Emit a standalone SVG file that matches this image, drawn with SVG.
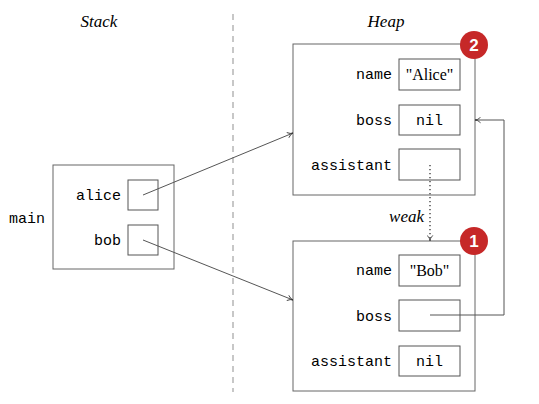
<svg xmlns="http://www.w3.org/2000/svg" width="539" height="404" viewBox="0 0 539 404">
<style>
.box{fill:none;stroke:#666;stroke-width:1}
.fld{fill:#fff;stroke:#555;stroke-width:1}
.mono{font-family:"Liberation Mono","DejaVu Sans Mono",monospace;font-size:15px;fill:#000}
.ser{font-family:"Liberation Serif",serif;font-size:16px;fill:#000}
.ital{font-family:"Liberation Serif",serif;font-style:italic;font-size:17px;fill:#000}
.con{fill:none;stroke:#555;stroke-width:1}
.badge{fill:#c62828}
.bt{font-family:"Liberation Sans",sans-serif;font-weight:bold;font-size:17px;fill:#fff}
</style>
<defs>
<marker id="arr" viewBox="0 0 10 10" refX="9" refY="5" markerWidth="7" markerHeight="7" markerUnits="userSpaceOnUse" orient="auto">
<path d="M1,1 Q5,5 9,5 Q5,5 1,9" fill="none" stroke="#333" stroke-width="1.2"/>
</marker>
</defs>
<text class="ital" x="99" y="27" text-anchor="middle">Stack</text>
<text class="ital" x="386" y="27" text-anchor="middle">Heap</text>
<line x1="233" y1="14" x2="233" y2="392" stroke="#aaa" stroke-width="1.3" stroke-dasharray="6,5"/>
<g id="main">
<rect class="box" x="53" y="165" width="121" height="104"/>
<text class="mono" x="9" y="223">main</text>
<text class="mono" x="121" y="200" text-anchor="end">alice</text>
<rect class="fld" x="128" y="180" width="30" height="30"/>
<text class="mono" x="121" y="245" text-anchor="end">bob</text>
<rect class="fld" x="128" y="225" width="30" height="30"/>
</g>
<g id="alice">
<rect class="box" x="293" y="44" width="182" height="151"/>
<text class="mono" x="392" y="79" text-anchor="end">name</text>
<rect class="fld" x="399" y="59" width="61" height="31"/>
<text class="ser" x="429.5" y="80" text-anchor="middle">"Alice"</text>
<text class="mono" x="392" y="125" text-anchor="end">boss</text>
<rect class="fld" x="399" y="105" width="61" height="30"/>
<text class="mono" x="429.5" y="125" text-anchor="middle">nil</text>
<text class="mono" x="392" y="170" text-anchor="end">assistant</text>
<rect class="fld" x="399" y="149" width="61" height="31"/>
<circle class="badge" cx="474" cy="45" r="14"/>
<text class="bt" x="474" y="51" text-anchor="middle">2</text>
</g>
<g id="bob">
<rect class="box" x="293" y="241" width="182" height="150"/>
<text class="mono" x="392" y="275" text-anchor="end">name</text>
<rect class="fld" x="399" y="255" width="61" height="31"/>
<text class="ser" x="429.5" y="276" text-anchor="middle">"Bob"</text>
<text class="mono" x="392" y="321" text-anchor="end">boss</text>
<rect class="fld" x="399" y="300" width="61" height="31"/>
<text class="mono" x="392" y="366" text-anchor="end">assistant</text>
<rect class="fld" x="399" y="346" width="61" height="30"/>
<text class="mono" x="429.5" y="366" text-anchor="middle">nil</text>
<circle class="badge" cx="474" cy="241" r="14"/>
<text class="bt" x="474" y="247" text-anchor="middle">1</text>
</g>
<g id="connectors">
<line class="con" x1="143" y1="195" x2="293" y2="133" marker-end="url(#arr)"/>
<line class="con" x1="143" y1="240" x2="293" y2="300" marker-end="url(#arr)"/>
<polyline class="con" points="430,315 504,315 504,120 475,120" marker-end="url(#arr)"/>
<line x1="430" y1="165" x2="430" y2="241" stroke="#222" stroke-width="1.2" stroke-dasharray="1.2,2.8" marker-end="url(#arr)"/>
<text class="ital" x="424" y="222" text-anchor="end">weak</text>
</g>
</svg>
